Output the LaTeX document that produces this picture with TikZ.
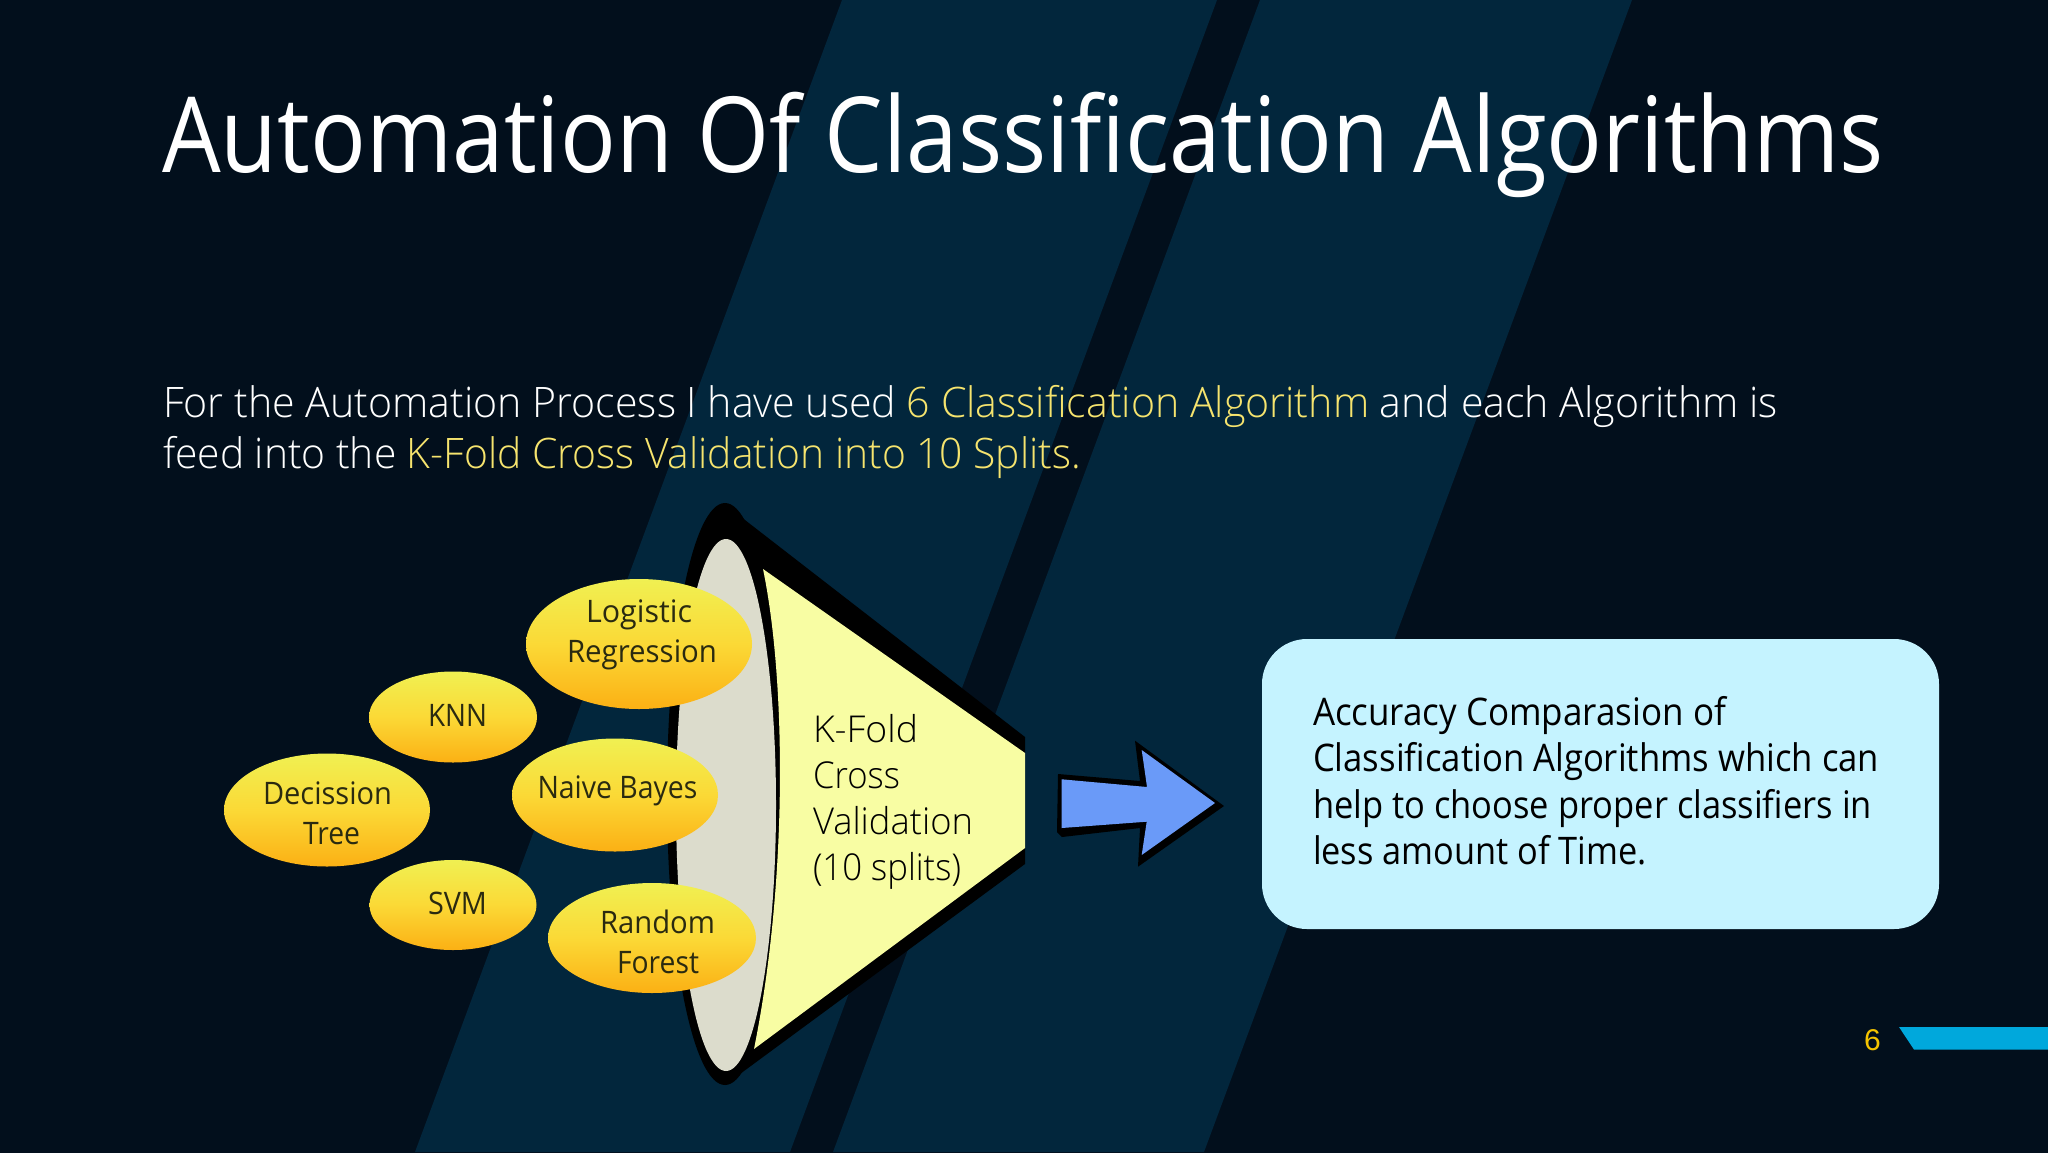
\documentclass[tikz,border=0pt]{standalone}
\usepackage{graphicx}
\usepackage{fontspec}
\setmainfont{Open Sans}
\newfontfamily\lightfont{Open Sans Light}
\newfontfamily\numfont{Liberation Sans}
\usetikzlibrary{shapes.geometric}
\definecolor{bgdark}{HTML}{020F1C}
\definecolor{bandblue}{HTML}{02263C}
\definecolor{hilite}{HTML}{F6E46E}
\definecolor{greyface}{HTML}{DCDCCC}
\definecolor{funnelyellow}{HTML}{F8FDA3}
\definecolor{arrowblue}{HTML}{6A9AF8}
\definecolor{boxblue}{HTML}{C5F3FF}
\definecolor{pagegold}{HTML}{F5C400}
\definecolor{barblue}{HTML}{00A8DC}
\definecolor{ovaltop}{HTML}{F0F052}
\definecolor{ovalmid}{HTML}{FBD936}
\definecolor{ovalbot}{HTML}{FBB014}
\definecolor{ovaltext}{HTML}{2A2A10}
\newcommand\fsz[1]{\fontsize{#1}{#1}\selectfont}
% \linetext{name}{x}{y}{width}{style}{font}{text}: one line of text fitted to a width, natural height
\newcommand\linetext[7]{\node[linebox,#5] (#1) at (#2,#3) {\resizebox{#4pt}{\height}{#6{}#7}};}
\tikzset{
  linebox/.style={anchor=base west,inner sep=0pt,outer sep=0pt},
  oval/.style={ellipse,inner sep=0pt,top color=ovaltop,bottom color=ovalbot,middle color=ovalmid,draw=none},
  ovaltxt/.style={text=ovaltext},
  bandfill/.style={fill=bandblue},
}
\begin{document}
\begin{tikzpicture}[x=1pt,y=-1pt]
\useasboundingbox (0,0) rectangle (2048,1152);
\fill[bgdark] (-10,-10) rectangle (2060,1165);
\fill[bandfill] (842,0) -- (1217,0) -- (790,1152) -- (415,1152) -- cycle;
\fill[bandfill] (1260,0) -- (1632,0) -- (1204,1152) -- (833,1152) -- cycle;

% Title and paragraph
\linetext{title}{162}{172}{1722}{text=white}{\fsz{105}}{Automation Of Classification Algorithms}
\linetext{paraA}{163}{417}{1615}{text=white}{\lightfont\fsz{42}}{For the Automation Process I have used {\color{hilite}6 Classification Algorithm} and each Algorithm is}
\linetext{paraB}{163}{468}{918}{text=white}{\lightfont\fsz{42}}{feed into the {\color{hilite}K-Fold Cross Validation into 10 Splits.}}

% Funnel
\fill[black] (725,794) ellipse [x radius=58,y radius=291];
\fill[black] (723,503) -- (1025,737) -- (1025,864) -- (725,1085) -- cycle;
\fill[greyface] (726,805) ellipse [x radius=50,y radius=266];
\fill[funnelyellow] (763,569) .. controls (786,680) and (788,880) .. (754,1049) -- (1025,848) -- (1025,753) -- cycle;
\linetext{kfA}{813}{742}{105}{text=black}{\lightfont\fsz{37}}{K-Fold}
\linetext{kfB}{813}{788}{87}{text=black}{\lightfont\fsz{37}}{Cross}
\linetext{kfC}{813}{834}{160}{text=black}{\lightfont\fsz{37}}{Validation}
\linetext{kfD}{813}{880}{148}{text=black}{\lightfont\fsz{37}}{(10 splits)}

% Ovals
\node[oval,minimum width=226pt,minimum height=130pt] (logistic) at (639,644) {};
\node[oval,minimum width=168pt,minimum height=91pt] (knn) at (453,717) {};
\node[oval,minimum width=206pt,minimum height=113pt] (naive) at (615,795) {};
\node[oval,minimum width=206pt,minimum height=113pt] (decission) at (327,810) {};
\node[oval,minimum width=167pt,minimum height=90pt] (svm) at (453,905) {};
\node[oval,minimum width=208pt,minimum height=110pt] (random) at (652,938) {};
\linetext{tLogA}{586}{622}{106}{ovaltxt}{\fsz{31}}{Logistic}
\linetext{tLogB}{567}{662}{150}{ovaltxt}{\fsz{31}}{Regression}
\linetext{tKnn}{428}{726}{59}{ovaltxt}{\fsz{31}}{KNN}
\linetext{tNaive}{537.5}{798}{160}{ovaltxt}{\fsz{31}}{Naive Bayes}
\linetext{tDecA}{263}{804}{129}{ovaltxt}{\fsz{31}}{Decission}
\linetext{tDecB}{303}{844}{57}{ovaltxt}{\fsz{31}}{Tree}
\linetext{tSvm}{428}{914}{59}{ovaltxt}{\fsz{31}}{SVM}
\linetext{tRanA}{600}{933.5}{115}{ovaltxt}{\fsz{31}}{Random}
\linetext{tRanB}{617}{973}{82}{ovaltxt}{\fsz{31}}{Forest}

% Arrow
\fill[black] (1058,774) -- (1140,781) -- (1135,740.7) -- (1224,806) -- (1138,866.7) -- (1140,828) -- (1062,837) -- (1057,832) -- cycle;
\fill[arrowblue] (1061.7,779.3) -- (1147,787) -- (1141.7,750) -- (1215,803) -- (1141.7,855) -- (1146.7,821.7) -- (1061.7,828) -- cycle;

% Result box
\fill[boxblue,rounded corners=45pt] (1262,639) rectangle (1939,929);
\linetext{rA}{1313}{725}{413}{text=black}{\fsz{38}}{Accuracy Comparasion of}
\linetext{rB}{1313}{771}{566}{text=black}{\fsz{38}}{Classification Algorithms which can}
\linetext{rC}{1313}{818}{559}{text=black}{\fsz{38}}{help to choose proper classifiers in}
\linetext{rD}{1313}{864}{334}{text=black}{\fsz{38}}{less amount of Time.}

% Footer
\node[linebox,text=pagegold,font=\numfont\fsz{30}] (pagenum) at (1864,1050) {6};
\fill[barblue] (1899,1027) -- (2048,1027) -- (2048,1049.6) -- (1914,1049.6) -- cycle;
\end{tikzpicture}
\end{document}
